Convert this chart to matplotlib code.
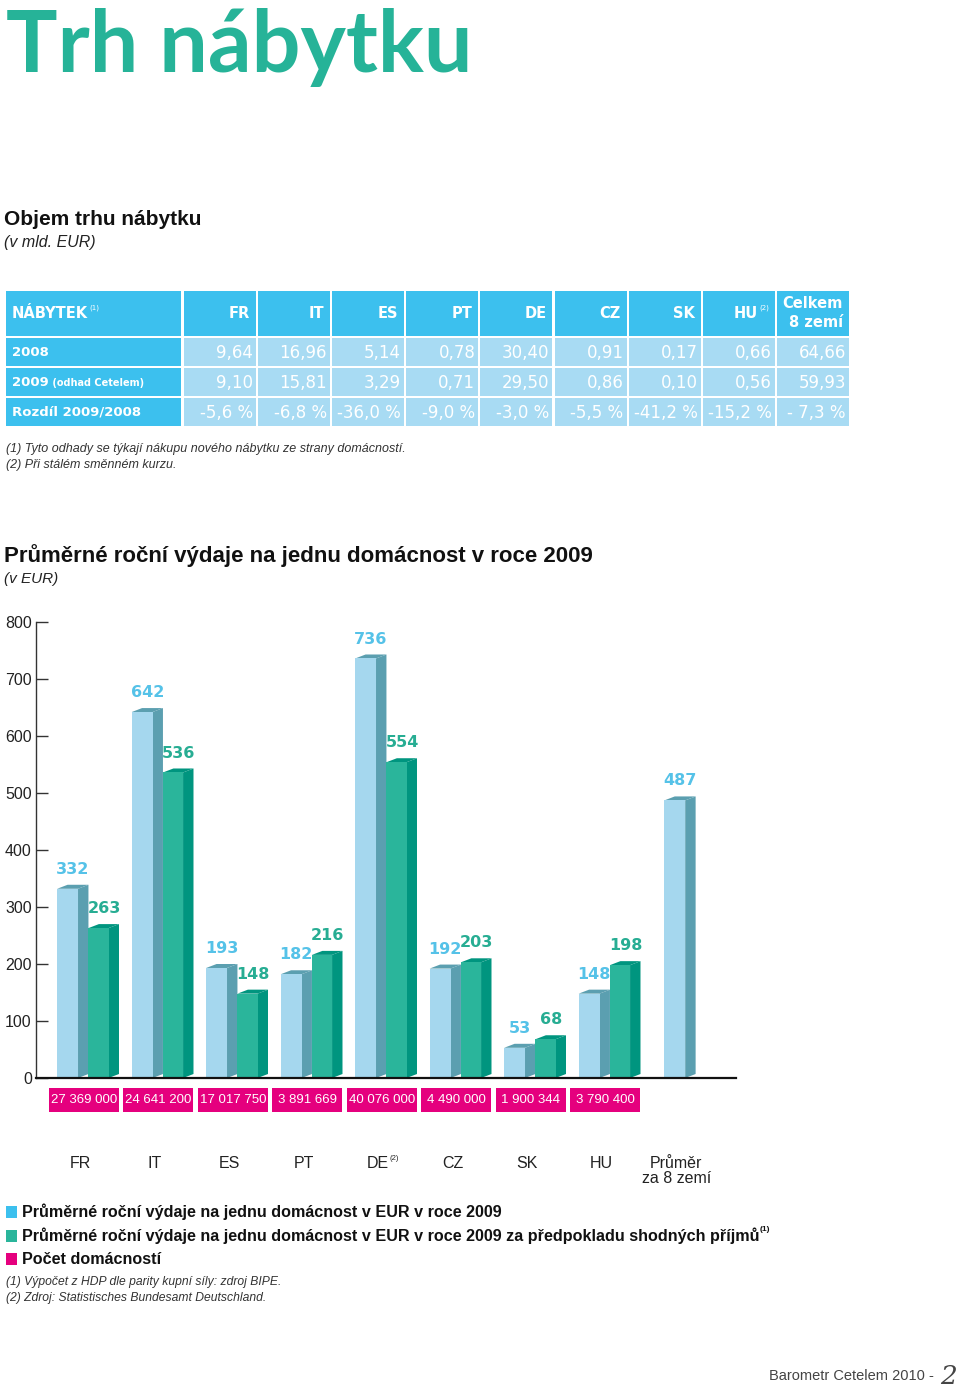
import numpy as np
import matplotlib
matplotlib.use("Agg")
from matplotlib import pyplot as plt
from matplotlib.patches import Rectangle, Polygon
import matplotlib.transforms as mtransforms

# --- table: objem trhu nabytku (v mld. EUR)
tab_cols = ["FR", "IT", "ES", "PT", "DE", "CZ", "SK", "HU", "Celkem\n8 zemí"]
tab_2008 = [9.64, 16.96, 5.14, 0.78, 30.40, 0.91, 0.17, 0.66, 64.66]
tab_2009 = [9.10, 15.81, 3.29, 0.71, 29.50, 0.86, 0.10, 0.56, 59.93]
tab_diff = ["-5,6 %", "-6,8 %", "-36,0 %", "-9,0 %", "-3,0 %", "-5,5 %", "-41,2 %", "-15,2 %", "- 7,3 %"]

# --- chart: prumerne rocni vydaje (v EUR)
countries = ["FR", "IT", "ES", "PT", "DE", "CZ", "SK", "HU", "Průměr\nza 8 zemí"]
spend = [332, 642, 193, 182, 736, 192, 53, 148, 487]
spend_adj = [263, 536, 148, 216, 554, 203, 68, 198]
households = ["27 369 000", "24 641 200", "17 017 750", "3 891 669", "40 076 000",
              "4 490 000", "1 900 344", "3 790 400"]
yticks = [0, 100, 200, 300, 400, 500, 600, 700, 800]

teal = "#26b398"
cyan = "#3cc0ee"
pale = "#a8dbf3"
pink = "#e5007e"
light_front, light_side = "#a5d7ee", "#5b9fb0"
green_front, green_side = "#2ab59b", "#00957f"

sans = "Liberation Sans"
wide = "DejaVu Sans"

fig = plt.figure(figsize=(9.6, 13.88), dpi=100)
bg = fig.add_axes([0, 0, 1, 1])
bg.set_xlim(0, 960)
bg.set_ylim(1388, 0)
bg.axis("off")

# title
bg.text(6, 72, "Trh nábytku", fontsize=62, color=teal, family="Lato",
        weight="bold", va="baseline", ha="left")

bg.text(4, 219, "Objem trhu nábytku", fontsize=15, weight="bold", family=sans,
        va="center", color="#111")
bg.text(4, 242, "(v mld. EUR)", fontsize=11.5, style="italic", family=sans,
        va="center", color="#222")

# table
row_y = [291, 338, 368, 398]
row_h = [45, 28, 28, 28]
col_x = 184 + 74.1 * np.arange(len(tab_cols))
col_w = 72
for r in range(4):
    bg.add_patch(Rectangle((6, row_y[r]), 175, row_h[r], fc=cyan, ec="none"))
    for i in range(len(tab_cols)):
        fc = cyan if r == 0 else pale
        bg.add_patch(Rectangle((col_x[i], row_y[r]), col_w, row_h[r], fc=fc, ec="none"))

t = bg.text(12, 313, "NÁBYTEK", fontsize=10.5, weight="bold", color="white",
            family=wide, va="center")
bg.annotate("(1)", xy=(1, 0.85), xycoords=t, fontsize=5, color="white",
            family=wide, va="center", ha="left", xytext=(1, 0), textcoords="offset points")
for i, c in enumerate(tab_cols):
    t = bg.text(col_x[i] + col_w - 6, 313, c, fontsize=10.5, weight="bold", color="white",
                family=wide, va="center", ha="right", multialignment="right", linespacing=1.35)
    if c == "HU":
        t.set_x(col_x[i] + col_w - 17)
        bg.annotate("(2)", xy=(1, 0.85), xycoords=t, fontsize=5, color="white",
                    family=wide, va="center", ha="left", xytext=(1, 0), textcoords="offset points")

t = bg.text(12, row_y[1] + 14, "2008", fontsize=9.5, weight="bold", color="white",
            family=wide, va="center")
t = bg.text(12, row_y[2] + 14, "2009", fontsize=9.5, weight="bold", color="white",
            family=wide, va="center")
bg.annotate(" (odhad Cetelem)", xy=(1, 0.4), xycoords=t, fontsize=7, weight="bold",
            color="white", family=wide, va="center", ha="left")
bg.text(12, row_y[3] + 14, "Rozdíl 2009/2008", fontsize=9.5, weight="bold", color="white",
        family=wide, va="center")

for i in range(len(tab_cols)):
    vals = [f"{tab_2008[i]:.2f}".replace(".", ","), f"{tab_2009[i]:.2f}".replace(".", ","), tab_diff[i]]
    for r, s in enumerate(vals):
        bg.text(col_x[i] + col_w - 3, row_y[r + 1] + 14.5, s, fontsize=12, color="white",
                family=wide, va="center", ha="right")

bg.text(6, 449, "(1) Tyto odhady se týkají nákupu nového nábytku ze strany domácností.",
        fontsize=9, style="italic", family=sans, va="center", color="#333")
bg.text(6, 465, "(2) Při stálém směnném kurzu.",
        fontsize=9, style="italic", family=sans, va="center", color="#333")

# chart heading
bg.text(4, 556, "Průměrné roční výdaje na jednu domácnost v roce 2009", fontsize=16,
        weight="bold", family=sans, va="center", color="#111")
bg.text(4, 579, "(v EUR)", fontsize=11, style="italic", family=sans, va="center", color="#222")

# chart axes
ax = fig.add_axes([36 / 960, (1388 - 1078) / 1388, 700 / 960, 456 / 1388])
ax.set_ylim(0, 800)
ax.set_xlim(-0.644, 8.752)
ax.patch.set_alpha(0)
for s in ["top", "right"]:
    ax.spines[s].set_visible(False)
ax.spines["left"].set_linewidth(1.0)
ax.spines["left"].set_color("#333")
ax.spines["bottom"].set_linewidth(1.6)
ax.spines["bottom"].set_color("#111")
ax.set_xticks([])
ax.set_yticks(yticks)
ax.tick_params(axis="y", direction="in", length=8.6, width=1, color="#333",
               labelsize=11.5, pad=3, labelcolor="#222")
for lab in ax.get_yticklabels():
    lab.set_family(sans)

x = np.arange(len(countries))
w = 0.28   # front face width
d = 0.14   # depth width
dy = 7     # depth rise, data units


def depth(ax, x0, width, v, col):
    # side and top faces for a pseudo 3d bar
    ax.add_patch(Polygon([(x0 + width, 0), (x0 + width + d, dy), (x0 + width + d, v + dy), (x0 + width, v)],
                         fc=col, ec="none"))
    ax.add_patch(Polygon([(x0, v), (x0 + width, v), (x0 + width + d, v + dy), (x0 + d, v + dy)],
                         fc=col, ec="none"))


light_x = x - 0.36
light_x[-1] = x[-1] - 0.21
green_x = x[:len(spend_adj)] + 0.06

ax.bar(light_x, spend, width=w, align="edge", color=light_front, zorder=2)
for x0, v in zip(light_x, spend):
    depth(ax, x0, w, v, light_side)
ax.bar(green_x, spend_adj, width=w - 0.01, align="edge", color=green_front, zorder=2)
for x0, v in zip(green_x, spend_adj):
    depth(ax, x0, w - 0.01, v, green_side)

for x0, v in zip(light_x, spend):
    ax.annotate(str(v), xy=(x0 + (w + d) / 2, v), xytext=(0, 14), textcoords="offset points",
                ha="center", va="center", fontsize=11.5, weight="bold", color="#55c2e8",
                family=wide, zorder=5)
for x0, v in zip(green_x, spend_adj):
    ax.annotate(str(v), xy=(x0 + (w + d) / 2, v), xytext=(0, 14), textcoords="offset points",
                ha="center", va="center", fontsize=11.5, weight="bold", color="#27ad93",
                family=wide, zorder=5)

trans = mtransforms.blended_transform_factory(ax.transData, ax.transAxes)
for i, hh in enumerate(households):
    ax.add_patch(Rectangle((x[i] - 0.47, -0.0746), 0.935, 0.0527, transform=trans,
                           fc=pink, ec="none", clip_on=False))
    ax.text(x[i] - 0.0, -0.048, hh, transform=trans, ha="center", va="center",
            fontsize=9.5, color="white", family=sans)

for i, c in enumerate(countries):
    t = ax.text(x[i] - 0.05, -0.172, c, transform=trans, ha="center", va="top",
                fontsize=11.5, color="#222", family=sans, linespacing=1.0)
    if c == "DE":
        ax.annotate("(2)", xy=(1, 0.85), xycoords=t, fontsize=5.5, color="#222",
                    family=sans, va="center", ha="left")

# legend
leg_cols = [cyan, green_front, pink]
leg_text = ["Průměrné roční výdaje na jednu domácnost v EUR v roce 2009",
            "Průměrné roční výdaje na jednu domácnost v EUR v roce 2009 za předpokladu shodných příjmů",
            "Počet domácností"]
leg_y = [1212, 1236, 1259]
for col, txt, yy in zip(leg_cols, leg_text, leg_y):
    bg.add_patch(Rectangle((6, yy - 6), 11, 12, fc=col, ec="none"))
    t = bg.text(22, yy, txt, fontsize=11.6, weight="bold", family=sans, va="center", color="#111")
    if "příjmů" in txt:
        bg.annotate("(1)", xy=(1, 0.9), xycoords=t, fontsize=6, weight="bold",
                    family=sans, va="center", ha="left", color="#111")

bg.text(6, 1282, "(1) Výpočet z HDP dle parity kupní síly: zdroj BIPE.",
        fontsize=8.7, style="italic", family=sans, va="center", color="#333")
bg.text(6, 1298, "(2) Zdroj: Statistisches Bundesamt Deutschland.",
        fontsize=8.7, style="italic", family=sans, va="center", color="#333")

bg.text(934, 1376, "Barometr Cetelem 2010 -", fontsize=10.5, family=sans,
        ha="right", va="center", color="#444")
bg.text(957, 1376, "2", fontsize=19, family="DejaVu Serif", style="italic",
        ha="right", va="center", color="#444")

fig.savefig("out.png", dpi=100)
